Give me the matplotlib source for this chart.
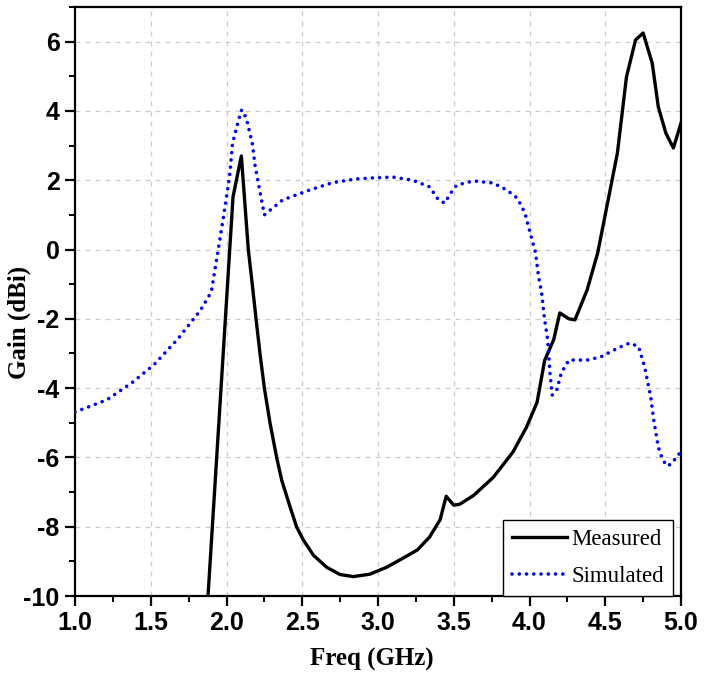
import matplotlib
matplotlib.use("Agg")
import matplotlib.pyplot as plt
from matplotlib.ticker import MultipleLocator

# Measured gain
meas_f = [1.878, 2.043, 2.098, 2.144, 2.17, 2.195, 2.221, 2.250, 2.287, 2.331, 2.364, 2.419,
          2.463, 2.507, 2.573, 2.661, 2.749, 2.837, 2.947, 3.057, 3.16, 3.26, 3.34, 3.41, 3.45,
          3.50, 3.54, 3.63, 3.76, 3.89, 3.98, 4.05, 4.10, 4.16, 4.20, 4.26, 4.30, 4.38, 4.45,
          4.51, 4.58, 4.64, 4.70, 4.75, 4.81, 4.85, 4.90, 4.95, 5.00]
meas_g = [-10.0, 1.52, 2.70, 0.0, -1.0, -2.0, -3.0, -4.0, -5.0, -6.0, -6.65, -7.42,
          -8.01, -8.38, -8.82, -9.17, -9.38, -9.44, -9.37, -9.17, -8.92, -8.67, -8.30, -7.80, -7.12,
          -7.38, -7.35, -7.10, -6.58, -5.85, -5.13, -4.41, -3.20, -2.60, -1.83, -2.00, -2.03, -1.17, -0.10,
          1.23, 2.78, 4.98, 6.05, 6.25, 5.38, 4.12, 3.36, 2.93, 3.65]

# Simulated gain
sim_f = [1.00, 1.21, 1.38, 1.52, 1.66, 1.69, 1.83, 1.90, 1.945, 1.98, 2.02, 2.04, 2.08, 2.10,
         2.13, 2.17, 2.19, 2.21, 2.25, 2.37, 2.55, 2.70, 2.86, 2.98, 3.10, 3.23, 3.34, 3.40,
         3.44, 3.48, 3.52, 3.63, 3.76, 3.85, 3.92, 3.97, 4.00, 4.04, 4.06, 4.08, 4.10, 4.12,
         4.135, 4.15, 4.18, 4.21, 4.26, 4.38, 4.47, 4.58, 4.66, 4.72, 4.76, 4.80, 4.82, 4.85,
         4.88, 4.91, 4.94, 4.98, 5.00]
sim_g = [-4.69, -4.34, -3.83, -3.33, -2.67, -2.52, -1.74, -1.22, -0.01, 0.94, 2.10, 3.07, 3.74, 4.03,
         3.80, 3.07, 2.38, 1.92, 1.00, 1.43, 1.72, 1.93, 2.04, 2.07, 2.09, 2.00, 1.81, 1.43,
         1.34, 1.63, 1.86, 1.98, 1.92, 1.72, 1.48, 1.05, 0.55, -0.10, -0.79, -1.25, -2.03, -2.60,
         -3.56, -4.20, -4.05, -3.56, -3.19, -3.19, -3.10, -2.85, -2.70, -2.80, -3.39, -4.25, -4.92, -5.70,
         -6.08, -6.25, -6.17, -5.93, -5.85]

xticks = [1.0, 1.5, 2.0, 2.5, 3.0, 3.5, 4.0, 4.5, 5.0]
yticks = [-10, -8, -6, -4, -2, 0, 2, 4, 6]

fig = plt.figure(figsize=(7.13, 6.77), dpi=100)
ax = fig.add_axes([75/713, 81/677, 606/713, 589/677])

ax.plot(meas_f, meas_g, color="black", lw=2.4, label="Measured", zorder=3)
ax.plot(sim_f, sim_g, color="#0000ff", lw=2.6, linestyle=(0, (0.01, 2.0)),
        dash_capstyle="round", label="Simulated", zorder=3)

ax.set_xlim(1.0, 5.0)
ax.set_ylim(-10, 7)
ax.set_xticks(xticks)
ax.set_xticklabels([f"{v:.1f}" for v in xticks])
ax.set_yticks(yticks)
ax.set_yticklabels([str(v) for v in yticks])
ax.xaxis.set_minor_locator(MultipleLocator(0.25))
ax.yaxis.set_minor_locator(MultipleLocator(1))

ax.grid(True, which="major", color="#cccccc", linestyle=(0, (4, 4)), lw=0.9)
ax.set_axisbelow(True)

for s in ax.spines.values():
    s.set_linewidth(1.6)

ax.tick_params(which="major", direction="out", length=7, width=1.6,
               labelsize=18, pad=4)
ax.tick_params(which="minor", direction="out", length=4.5, width=1.4)
for lab in ax.get_xticklabels() + ax.get_yticklabels():
    lab.set_fontfamily(["Liberation Sans", "DejaVu Sans"])
    lab.set_fontweight("bold")

ax.set_xlabel("Freq (GHz)", fontsize=18, fontweight="bold",
              fontfamily=["Liberation Serif", "DejaVu Serif"])
ax.set_ylabel("Gain (dBi)", fontsize=18, fontweight="bold",
              fontfamily=["Liberation Serif", "DejaVu Serif"])
ax.xaxis.set_label_coords(0.49, -0.088)
ax.yaxis.set_label_coords(-0.072, 0.465)

leg = ax.legend(loc="lower right", bbox_to_anchor=(0.987, 0.0), borderaxespad=0,
                prop={"family": ["Liberation Serif", "DejaVu Serif"], "size": 16.5},
                handlelength=2.4, handletextpad=0.2, labelspacing=0.7,
                borderpad=0.4, fancybox=False, framealpha=1)
leg.get_frame().set_edgecolor("black")
leg.get_frame().set_linewidth(1.0)

fig.savefig("out.png", dpi=100)
